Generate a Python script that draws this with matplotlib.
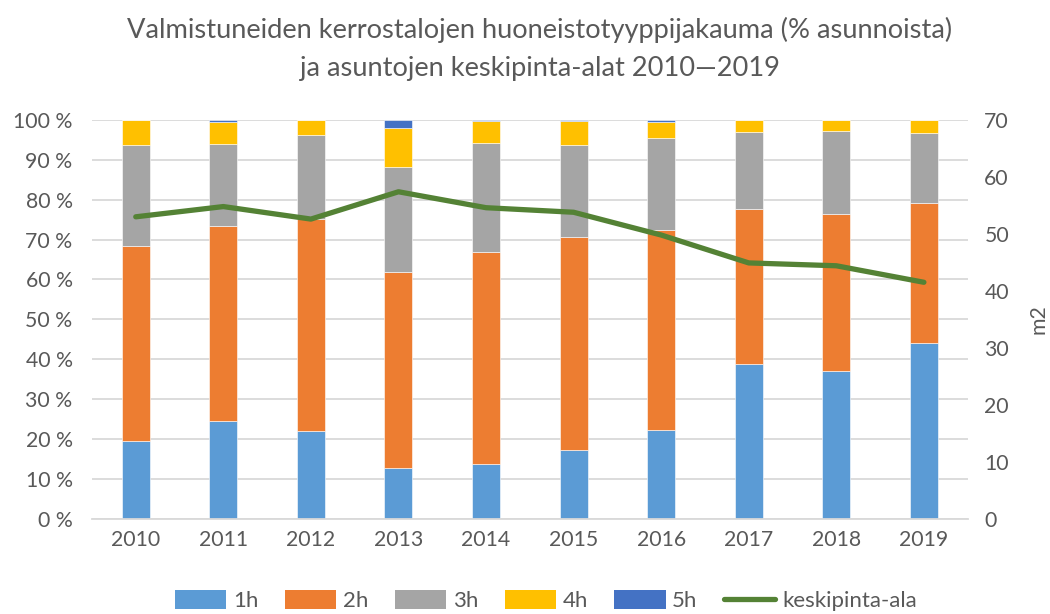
import matplotlib
matplotlib.use("Agg")
import matplotlib.pyplot as plt
import numpy as np
from matplotlib.patches import Patch
from matplotlib.lines import Line2D

years = ["2010", "2011", "2012", "2013", "2014", "2015", "2016", "2017", "2018", "2019"]
share_1h = [19.5, 24.5, 21.9, 12.8, 13.8, 17.3, 22.3, 38.9, 37.1, 44.1]
share_2h = [48.8, 48.9, 53.2, 49.0, 53.0, 53.4, 50.2, 38.7, 39.4, 35.0]
share_3h = [25.4, 20.7, 21.2, 26.3, 27.4, 23.1, 23.0, 19.4, 20.7, 17.7]
share_4h = [6.3, 5.5, 3.7, 9.9, 5.6, 5.9, 4.1, 3.0, 2.8, 3.2]
share_5h = [0.0, 0.4, 0.0, 2.0, 0.2, 0.3, 0.4, 0.0, 0.0, 0.0]
avg_area = [53.0, 54.8, 52.6, 57.4, 54.6, 53.8, 49.8, 44.9, 44.4, 41.5]

series = [("1h", share_1h, "#5B9BD5"), ("2h", share_2h, "#ED7D31"),
          ("3h", share_3h, "#A5A5A5"), ("4h", share_4h, "#FFC000"),
          ("5h", share_5h, "#4472C4")]
line_color = "#548235"
text_color = "#595959"

plt.rcParams["font.family"] = ["Lato", "DejaVu Sans"]

fig = plt.figure(figsize=(10.5, 6.14), dpi=100)
ax = fig.add_axes([0.0876, 0.1555, 0.834, 0.649])
x = np.arange(len(years))

bottom = np.zeros(len(years))
for label, vals, color in series:
    vals = np.array(vals)
    ax.bar(x, vals, width=0.32, bottom=bottom, color=color,
           edgecolor="white", linewidth=0.4, zorder=2)
    bottom += vals

ax.set_xlim(-0.5, len(years) - 0.5)
ax.set_ylim(0, 100)
ax.set_yticks(np.arange(0, 101, 10))
ax.set_yticklabels([f"{v} %" for v in range(0, 101, 10)])
ax.set_xticks(x)
ax.set_xticklabels(years)
ax.yaxis.grid(True, color="#D9D9D9", linewidth=1.3, zorder=0)
ax.set_axisbelow(True)
for s in ax.spines.values():
    s.set_visible(False)
ax.spines["bottom"].set_visible(True)
ax.spines["bottom"].set_color("#D9D9D9")
ax.spines["bottom"].set_linewidth(1.3)
ax.tick_params(axis="both", length=0, labelsize=15.3, colors=text_color, pad=8)
ax.tick_params(axis="y", pad=14)

ax2 = ax.twinx()
ax2.plot(x, avg_area, color=line_color, linewidth=3.8,
         solid_capstyle="round", solid_joinstyle="round", zorder=3)
ax2.set_ylim(0, 70)
ax2.set_yticks(np.arange(0, 71, 10))
for s in ax2.spines.values():
    s.set_visible(False)
ax2.tick_params(axis="y", length=0, labelsize=15.3, colors=text_color, pad=12)
ax2.set_ylabel("m2", fontsize=15.3, color=text_color, labelpad=14)

fig.text(0.514, 0.952, "Valmistuneiden kerrostalojen huoneistotyyppijakauma (% asunnoista)",
         ha="center", va="center", fontsize=19.6, color=text_color)
fig.text(0.514, 0.888, "ja asuntojen keskipinta-alat 2010\u20142019",
         ha="center", va="center", fontsize=19.6, color=text_color)

handles = [Patch(facecolor=c, edgecolor="none", label=l) for l, _, c in series]
handles.append(Line2D([0], [0], color=line_color, linewidth=3.8,
                      solid_capstyle="round", label="keskipinta-ala"))
fig.legend(handles=handles, loc="lower center", bbox_to_anchor=(0.52, -0.028),
           ncol=6, frameon=False, fontsize=16, handlelength=2.3, handleheight=0.9,
           handletextpad=0.3, columnspacing=1.2, labelcolor=text_color)

fig.savefig("out.png", dpi=100)
